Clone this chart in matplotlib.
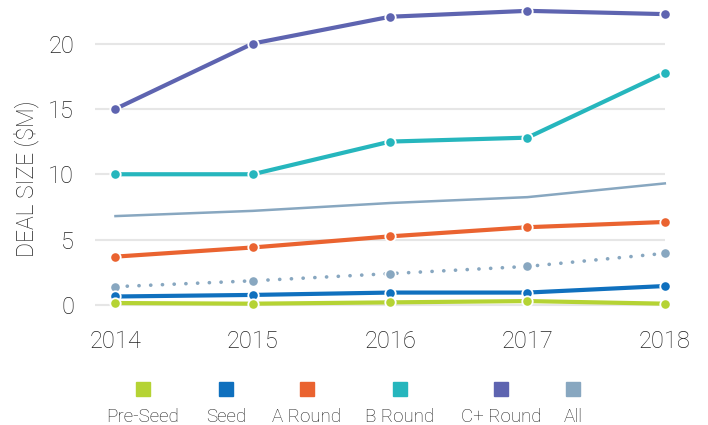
import matplotlib.pyplot as plt
from matplotlib.patches import Rectangle

years = [2014, 2015, 2016, 2017, 2018]

c_round = [15.0, 20.0, 22.05, 22.5, 22.25]
b_round = [10.0, 10.0, 12.5, 12.8, 17.75]
all_deals = [6.8, 7.2, 7.8, 8.25, 9.3]
a_round = [3.7, 4.4, 5.25, 5.95, 6.35]
all_median = [1.4, 1.85, 2.4, 2.95, 3.95]
seed = [0.65, 0.77, 0.95, 0.95, 1.45]
pre_seed = [0.15, 0.1, 0.2, 0.3, 0.1]

legend_labels = ['Pre-Seed', 'Seed', 'A Round', 'B Round', 'C+ Round', 'All']
legend_colors = ['#B5D334', '#0F70BE', '#EA6330', '#26B6BD', '#5E64B0', '#88A7C0']

text_color = '#222222'
plt.rcParams['font.family'] = ['Roboto', 'DejaVu Sans']
plt.rcParams['font.weight'] = 'light'
plt.rcParams['axes.labelweight'] = 'light'

fig = plt.figure(figsize=(7.08, 4.25), dpi=100)
ax = fig.add_axes([0.134, 0.267, 0.805, 0.729])

marker_style = dict(marker='o', markersize=7.5, markeredgecolor='white',
                    markeredgewidth=1.3, clip_on=False)

# Lines, back to front
ax.plot(years, c_round, color=legend_colors[4], lw=3, **marker_style)
ax.plot(years, b_round, color=legend_colors[3], lw=3, **marker_style)
ax.plot(years, all_deals, color=legend_colors[5], lw=1.8, clip_on=False)
ax.plot(years, a_round, color=legend_colors[2], lw=3, **marker_style)
ax.plot(years, all_median, color=legend_colors[5], lw=2.6,
        linestyle=(0, (0.05, 3.2)), dash_capstyle='round', **marker_style)
ax.plot(years, seed, color=legend_colors[1], lw=3, **marker_style)
ax.plot(years, pre_seed, color=legend_colors[0], lw=3, **marker_style)

# Axes styling
ax.set_xlim(2013.85, 2018.0)
ax.set_ylim(-0.5, 23.2)
ax.set_yticks([0, 5, 10, 15, 20])
ax.set_xticks(years)
ax.grid(axis='y', color='#E6E6E6', lw=1.5)
ax.set_axisbelow(True)
for s in ax.spines.values():
    s.set_visible(False)
ax.tick_params(axis='both', length=0, labelsize=17, colors=text_color)
ax.tick_params(axis='y', pad=15)
ax.tick_params(axis='x', pad=13)
ax.set_ylabel('DEAL SIZE ($M)', fontsize=16.5, color=text_color,
              fontweight='light')
ax.yaxis.set_label_coords(-0.098, 0.43)

# Legend: colour square above each label
legend_x = [143, 226, 307, 400, 501, 573]
sq = 14
for x, lab, col in zip(legend_x, legend_labels, legend_colors):
    fig.add_artist(Rectangle(((x - sq / 2) / 708, 1 - 396 / 425), sq / 708, sq / 425,
                             transform=fig.transFigure, color=col))
    fig.text(x / 708, 1 - 417 / 425, lab, ha='center', va='center',
             fontsize=13.5, color=text_color)

fig.savefig('out.png', dpi=100)
